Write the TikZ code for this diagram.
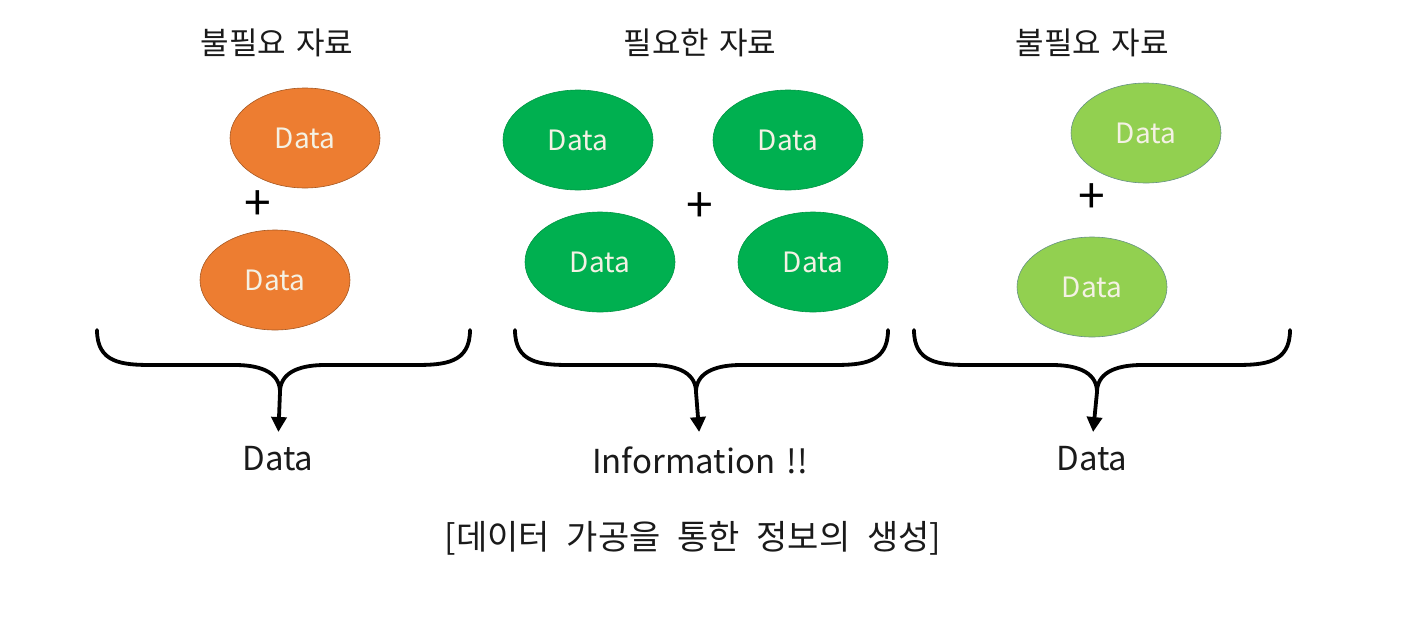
\documentclass[tikz,border=0pt]{standalone}
\usepackage{fontspec}
\setmainfont[WordSpace=1.5]{Noto Sans CJK KR}
\newfontfamily\capfont[WordSpace=2.2]{Noto Sans CJK KR}
\usetikzlibrary{arrows.meta,calc,shapes.geometric}
\definecolor{dpOrange}{HTML}{ED7D31}
\definecolor{dpGreen}{HTML}{00B050}
\definecolor{dpLime}{HTML}{92D050}
\definecolor{dpInk}{HTML}{1A1A1A}
\definecolor{dpCream}{HTML}{F4F1E4}
\tikzset{
 proc/.style={line cap=round,line join=round,text=dpInk},
 blob/.style={ellipse,inner sep=0pt,minimum width=150pt,minimum height=100pt,
   line width=.6pt,text=dpCream,font=\fontsize{28}{32}\selectfont},
 junk/.style={blob,fill=dpOrange,draw=dpOrange!70!black},
 useful/.style={blob,fill=dpGreen,draw=dpGreen!85!black},
 junk2/.style={blob,fill=dpLime,draw=dpLime!70!blue},
 plus/.style={font=\fontsize{48}{48}\selectfont,inner sep=0pt,text=black},
 heading/.style={font=\fontsize{31}{34}\selectfont},
 result/.style={font=\fontsize{33}{36}\selectfont,anchor=north},
 caption/.style={font=\capfont\fontsize{34}{38}\selectfont},
 brace/.style={draw=black,line width=3.8pt},
 merge/.style={draw=black,line width=3.8pt,shorten >=11pt,-{Triangle[length=15pt,width=15pt]}}
}
% one curly brace: left x, right x, cusp x, result node
\newcommand{\mergeBrace}[4]{%
 \coordinate (#4-cusp) at (#3,392);
 \draw[brace] (#1,330) .. controls (#1,363) and (#1+25,365) .. (#1+55,365)
   -- (#3-45,365) .. controls (#3-15,365) and (#3,375) .. (#4-cusp);
 \draw[brace] (#2,330) .. controls (#2,363) and (#2-25,365) .. (#2-55,365)
   -- (#3+45,365) .. controls (#3+15,365) and (#3,375) .. (#4-cusp);
 \draw[merge] (#4-cusp) -- (#4.north);}

\begin{document}
\begin{tikzpicture}[proc,x=1pt,y=-1pt]
 \useasboundingbox (0,0) rectangle (1405,627);
 % titles
 \node[heading] (tL) at (277,43) {불필요 자료};
 \node[heading] (tM) at (700,43) {필요한 자료};
 \node[heading] (tR) at (1092,43) {불필요 자료};
 % left: unneeded data
 \node[junk] (l1) at (305,138) {Data};
 \node[junk] (l2) at (275,280) {Data};
 \node[plus] (pL) at (258,206) {+};
 % middle: needed data
 \foreach \n/\x/\y in {m1/578/140,m2/788/140,m3/600/262,m4/813/262}{
   \node[useful] (\n) at (\x,\y) {Data};}
 \node[plus] (pM) at (700,208) {+};
 % right: unneeded data
 \node[junk2] (r1) at (1146,133) {Data};
 \node[junk2] (r2) at (1092,287) {Data};
 \node[plus] (pR) at (1092,199) {+};
 % results
 \node[result] (oL) at (278,443) {Data};
 \node[result] (oM) at (700,443) {Information !!};
 \node[result] (oR) at (1092,443) {Data};
 \mergeBrace{97}{470}{280}{oL}
 \mergeBrace{515}{888}{696}{oM}
 \mergeBrace{914}{1290}{1097}{oR}
 \node[caption] (cap) at (693,538) {[데이터 가공을 통한 정보의 생성]};
\end{tikzpicture}
\end{document}
